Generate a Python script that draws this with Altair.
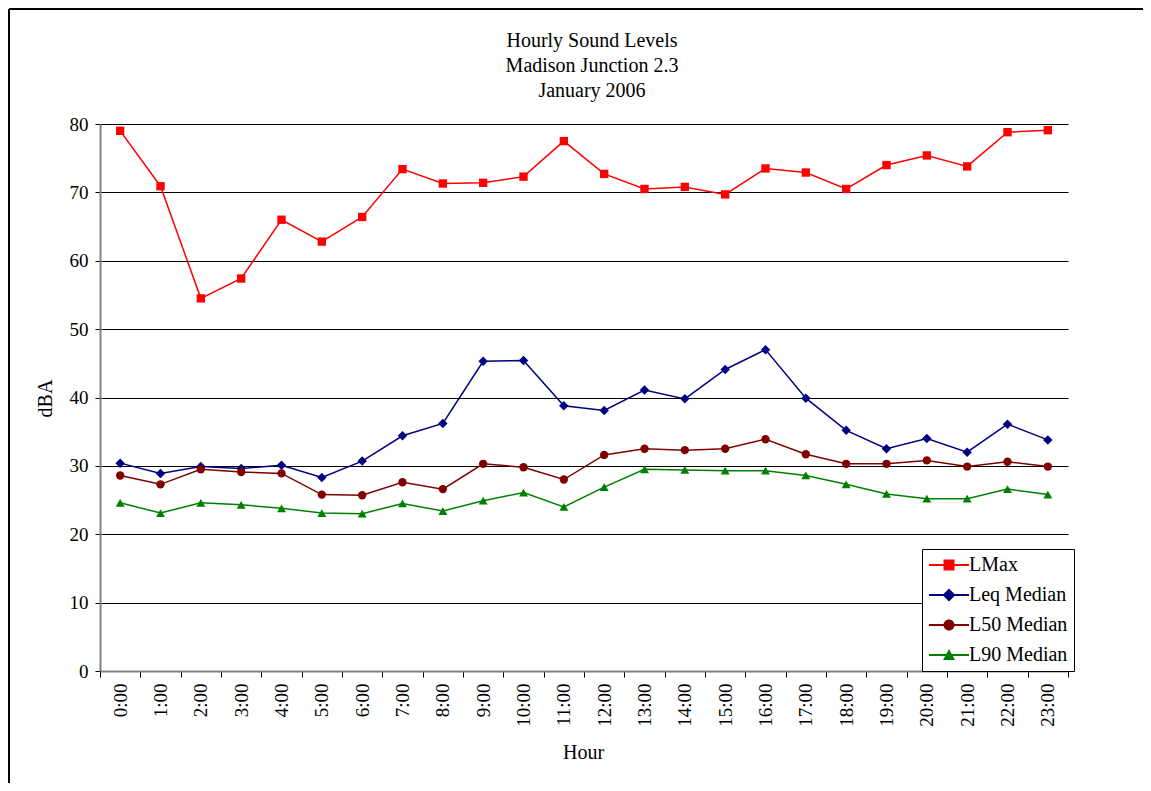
import altair as alt
import pandas as pd

hours = [f"{h}:00" for h in range(24)]
series_names = ["LMax", "Leq Median", "L50 Median", "L90 Median"]
series_colors = ["#FF0000", "#000080", "#800000", "#008000"]
series_shapes = ["square", "diamond", "circle", "triangle-up"]
title_lines = ["Hourly Sound Levels", "Madison Junction 2.3", "January 2006"]

lmax = [79.0, 70.9, 54.5, 57.4, 66.0, 62.8, 66.4, 73.4, 71.3, 71.4, 72.3, 77.5,
        72.7, 70.5, 70.8, 69.7, 73.5, 72.9, 70.5, 74.0, 75.4, 73.8, 78.8, 79.1]
leq = [30.4, 28.9, 29.9, 29.6, 30.1, 28.3, 30.7, 34.4, 36.2, 45.3, 45.4, 38.8,
       38.1, 41.1, 39.8, 44.1, 47.0, 39.9, 35.2, 32.5, 34.0, 32.0, 36.1, 33.8]
l50 = [28.6, 27.3, 29.5, 29.1, 28.9, 25.8, 25.7, 27.6, 26.6, 30.3, 29.8, 28.0,
       31.6, 32.5, 32.3, 32.5, 33.9, 31.7, 30.3, 30.3, 30.8, 29.9, 30.6, 29.9]
l90 = [24.6, 23.1, 24.6, 24.3, 23.8, 23.1, 23.0, 24.5, 23.4, 24.9, 26.1, 24.0,
       26.9, 29.5, 29.4, 29.3, 29.3, 28.6, 27.3, 25.9, 25.2, 25.2, 26.6, 25.8]

# legend glyphs: a line segment through the marker (custom symbol paths, all clockwise)
legend_paths = [
    "M-4,-0.2H4V0.2H-4Z M-1.1,-1.1H1.1V1.1H-1.1Z",
    "M-4,-0.2H4V0.2H-4Z M0,-1.3L1.3,0L0,1.3L-1.3,0Z",
    "M-4,-0.2H4V0.2H-4Z M-1.1,0A1.1,1.1 0 1,1 1.1,0A1.1,1.1 0 1,1 -1.1,0Z",
    "M-4,-0.2H4V0.2H-4Z M0,-1.2L1.2,1H-1.2Z",
]

rows = []
for name, vals in zip(series_names, [lmax, leq, l50, l90]):
    for h, v in zip(hours, vals):
        rows.append({"Hour": h, "dBA": v, "series": name})
df = pd.DataFrame(rows)

FONT = "Liberation Serif"

x_enc = alt.X(
    "Hour:N",
    sort=hours,
    bandPosition=0.5,
    scale=alt.Scale(type="band", domain=hours, paddingInner=0, paddingOuter=0),
    axis=alt.Axis(
        title="Hour", labelAngle=270, tickBand="extent", grid=False,
        tickSize=6, tickColor="black", labelPadding=6,
        domainColor="#808080", domainWidth=2,
        titleX=483, titleY=81, titleBaseline="middle", titleAlign="center",
    ),
)
y_enc = alt.Y(
    "dBA:Q",
    scale=alt.Scale(domain=[0, 80], nice=False),
    axis=alt.Axis(
        title="dBA", values=list(range(0, 81, 10)), grid=True,
        gridColor="black", gridWidth=1, gridOpacity=1,
        tickSize=5, tickColor="black", labelPadding=7,
        domainColor="#808080", domainWidth=2,
        titleAngle=270, titleX=-55, titleY=274,
        titleAlign="center", titleBaseline="middle",
    ),
)

base = alt.Chart(df)

series_layers = []
for name, shp, sz, col in zip(series_names, series_shapes, [70, 90, 70, 80], series_colors):
    sub = base.transform_filter(alt.datum.series == name)
    series_layers.append(
        sub.mark_line(strokeWidth=1.5, color=col).encode(x=x_enc, y=y_enc)
    )
    series_layers.append(
        sub.mark_point(filled=True, shape=shp, size=sz, opacity=1, color=col)
        .encode(x=x_enc, y=y_enc)
    )

leg = alt.Legend(
    title=None, orient="none", legendX=822, legendY=425,
    strokeColor="black", fillColor="white", padding=6,
    labelFont=FONT, labelFontSize=20, labelColor="black",
    symbolOffset=11, labelOffset=10, rowPadding=10,
    symbolOpacity=1, symbolStrokeWidth=0,
)
legend_layer = base.mark_point(filled=True, size=64, opacity=0).encode(
    x=x_enc, y=y_enc,
    color=alt.Color("series:N", scale=alt.Scale(domain=series_names, range=series_colors),
                    legend=leg),
    shape=alt.Shape("series:N", scale=alt.Scale(domain=series_names, range=legend_paths),
                    legend=leg),
)

one = pd.DataFrame({"a": [0]})
frame_top = alt.Chart(one).mark_rule(color="black", strokeWidth=2).encode(
    x=alt.value(-91), x2=alt.value(1050), y=alt.value(-115))
frame_left = alt.Chart(one).mark_rule(color="black", strokeWidth=2).encode(
    x=alt.value(-91), y=alt.value(-115), y2=alt.value(665))

title = alt.Chart(pd.DataFrame({"t": ["\n".join(title_lines)]})).mark_text(
    font=FONT, fontSize=20, color="black", lineBreak="\n", lineHeight=25,
    align="center", baseline="middle",
).encode(text="t:N", x=alt.value(492), y=alt.value(-83))

chart = alt.layer(frame_top, frame_left, title, *series_layers, legend_layer).properties(
    width=968,
    height=547,
    autosize=alt.AutoSizeParams(type="none"),
    padding={"left": 92, "top": 116, "right": 75, "bottom": 112},
    background="white",
).configure_view(stroke=None).configure_axis(
    labelFont=FONT, labelFontSize=19, labelColor="black",
    titleFont=FONT, titleFontSize=20, titleFontWeight="normal", titleColor="black",
)

chart.save("out.html", embed_options={"renderer": "svg", "actions": False})
